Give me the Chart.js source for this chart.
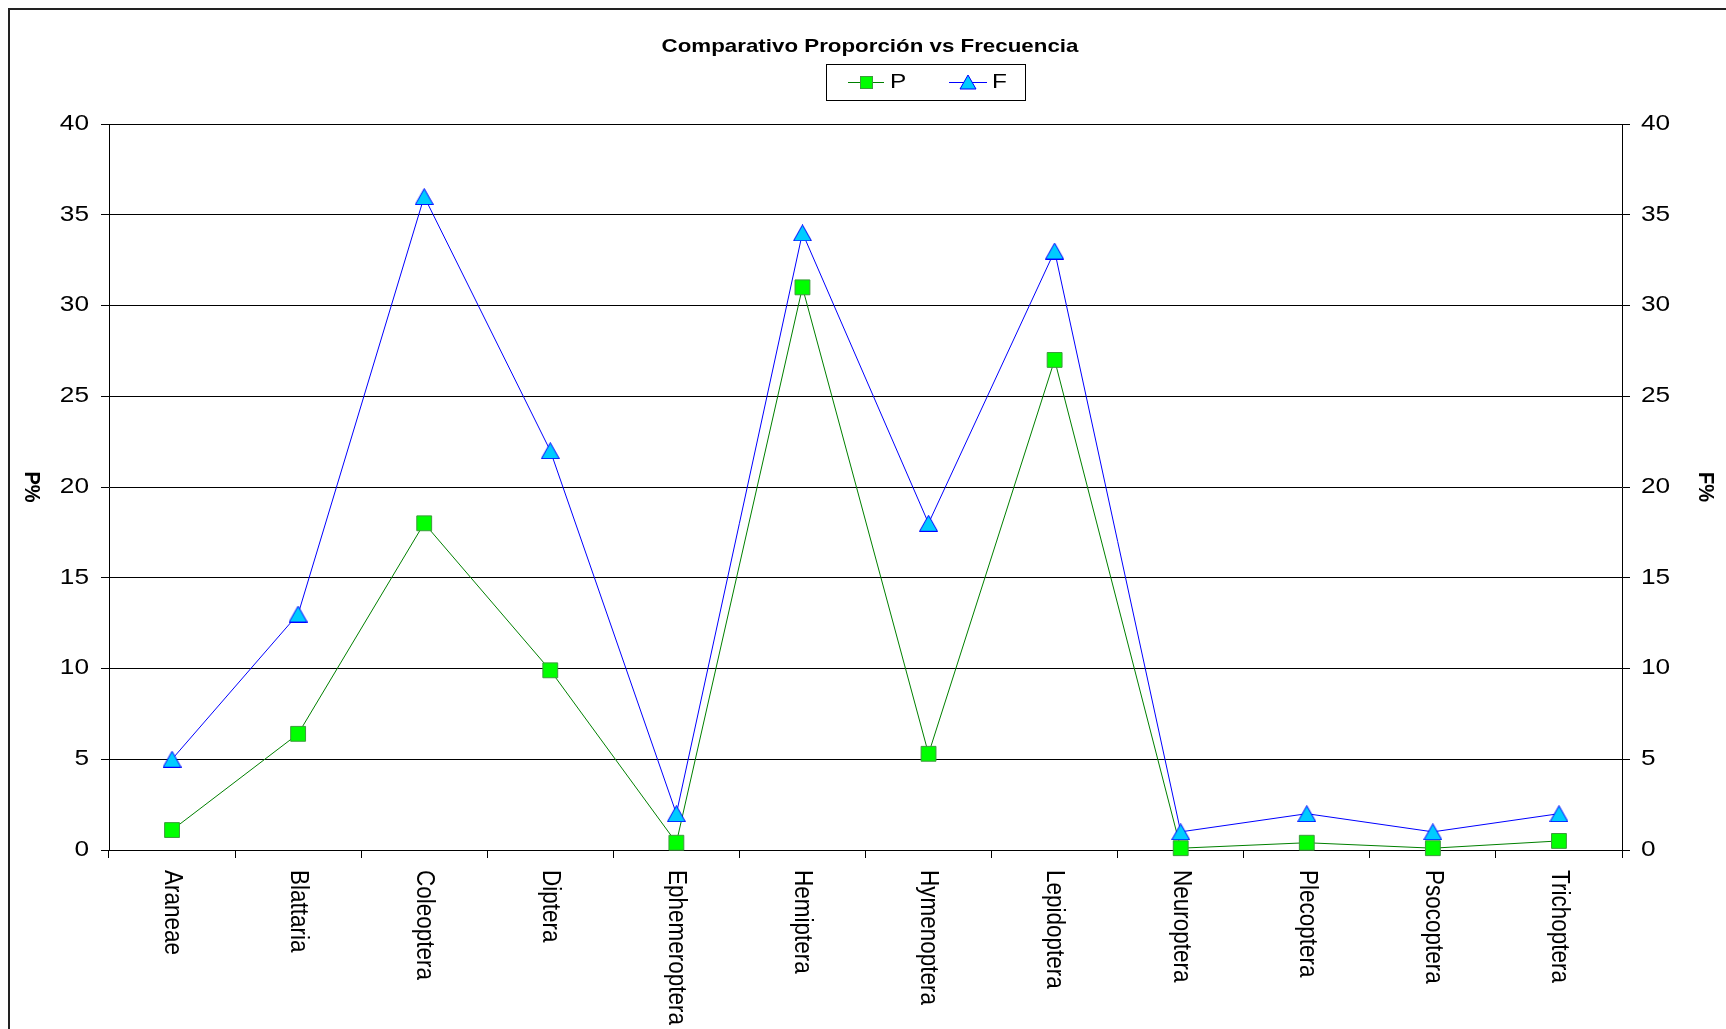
<!DOCTYPE html>
<html>
<head>
<meta charset="utf-8">
<script src="https://cdn.jsdelivr.net/npm/chart.js@4.4.1/dist/chart.umd.min.js"></script>
<style>
  html, body { margin: 0; padding: 0; background: #ffffff; }
  #c { display: block; }
</style>
</head>
<body>
<canvas id="c" width="1726" height="1029"></canvas>
<script>
// Orders of insects: proportion (P%) and frequency (F%)
const categories = ['Araneae', 'Blattaria', 'Coleoptera', 'Diptera', 'Ephemeroptera', 'Hemiptera',
  'Hymenoptera', 'Lepidoptera', 'Neuroptera', 'Plecoptera', 'Psocoptera', 'Trichoptera'];
const proporcion = [1.1, 6.4, 18, 9.9, 0.4, 31, 5.3, 27, 0.1, 0.4, 0.1, 0.5];
const frecuencia = [5, 13, 36, 22, 2, 34, 18, 33, 1, 2, 1, 2];
const yTicks = [0, 5, 10, 15, 20, 25, 30, 35, 40];
const chartTitle = 'Comparativo Proporción vs Frecuencia';
const seriesNames = ['P', 'F'];
const axisTitles = ['P%', 'F%'];

const FONT = '"Liberation Sans", Arial, sans-serif';
const STRETCH = 1.22; // text in this chart is drawn horizontally widened

const colP = { line: '#008000', fill: '#00ff00', edge: '#3d9b3d' };
const colF = { line: '#0000ff', fill: '#00ccff', edge: '#0000ff' };

// triangle marker whose bounding box is centred on the data point
function triangleMarker(w, h) {
  const cv = document.createElement('canvas');
  cv.width = w + 2; cv.height = h + 2;
  const c = cv.getContext('2d');
  c.beginPath();
  c.moveTo((w + 2) / 2, 0.5);
  c.lineTo(w + 1.5, h + 1.5);
  c.lineTo(0.5, h + 1.5);
  c.closePath();
  c.fillStyle = colF.fill; c.fill();
  c.strokeStyle = colF.edge; c.lineWidth = 1; c.stroke();
  return cv;
}
const triMark = triangleMarker(17, 15);

function wideText(ctx, text, x, y, align, font, sx) {
  ctx.save();
  ctx.font = font;
  ctx.translate(x, y);
  ctx.scale(sx || STRETCH, 1);
  ctx.textAlign = align;
  ctx.textBaseline = 'middle';
  ctx.fillText(text, 0, 0);
  ctx.restore();
}

function rotText(ctx, text, x, y, align, font, sy) {
  ctx.save();
  ctx.font = font;
  ctx.translate(x, y);
  ctx.rotate(Math.PI / 2);
  ctx.scale(1, sy || 1);
  ctx.textAlign = align;
  ctx.textBaseline = 'middle';
  ctx.fillText(text, 0, 0);
  ctx.restore();
}

const decorations = {
  id: 'decorations',
  beforeDraw(chart) {
    const ctx = chart.ctx;
    ctx.save();
    ctx.fillStyle = '#ffffff';
    ctx.fillRect(0, 0, chart.width, chart.height);
    // outer frame
    ctx.strokeStyle = '#222222';
    ctx.lineWidth = 2;
    ctx.strokeRect(9, 9, 1800, 1100);
    ctx.restore();
  },
  afterDraw(chart) {
    const ctx = chart.ctx;
    const xs = chart.scales.x, yl = chart.scales.y, yr = chart.scales.y1;
    ctx.save();
    ctx.fillStyle = '#000000';

    // value labels on both vertical axes
    yTicks.forEach(v => {
      wideText(ctx, String(v), yl.right - 20, yl.getPixelForValue(v), 'right', '21.5px ' + FONT);
      wideText(ctx, String(v), yr.left + 19, yr.getPixelForValue(v), 'left', '21.5px ' + FONT);
    });

    // category labels, read downwards
    categories.forEach((c, i) => {
      rotText(ctx, c, xs.getPixelForValue(i), xs.top + 20, 'left', '22.5px ' + FONT, 1.15);
    });

    // axis titles
    rotText(ctx, axisTitles[0], 31, (yl.top + yl.bottom) / 2, 'center', 'bold 20px ' + FONT, 1.1);
    rotText(ctx, axisTitles[1], 1705, (yr.top + yr.bottom) / 2, 'center', 'bold 20px ' + FONT, 1.1);

    // chart title
    wideText(ctx, chartTitle, 870, 47, 'center', 'bold 19px ' + FONT, 1.175);

    // legend box
    ctx.strokeStyle = '#000000';
    ctx.lineWidth = 1;
    ctx.strokeRect(826.5, 64.5, 199, 36);
    const ly = 82;
    // P entry
    ctx.strokeStyle = colP.line;
    ctx.beginPath(); ctx.moveTo(848, ly + 0.5); ctx.lineTo(884, ly + 0.5); ctx.stroke();
    ctx.fillStyle = colP.fill; ctx.strokeStyle = colP.edge;
    ctx.fillRect(860, ly - 6, 13, 13); ctx.strokeRect(860.5, ly - 5.5, 12, 12);
    ctx.fillStyle = '#000000';
    wideText(ctx, seriesNames[0], 890, ly, 'left', '20px ' + FONT);
    // F entry
    ctx.strokeStyle = colF.line;
    ctx.beginPath(); ctx.moveTo(949, ly + 0.5); ctx.lineTo(987, ly + 0.5); ctx.stroke();
    ctx.fillStyle = colF.fill; ctx.strokeStyle = colF.edge;
    ctx.beginPath(); ctx.moveTo(968, ly - 7); ctx.lineTo(976, ly + 7); ctx.lineTo(960, ly + 7); ctx.closePath();
    ctx.fill(); ctx.stroke();
    ctx.fillStyle = '#000000';
    wideText(ctx, seriesNames[1], 992, ly, 'left', '20px ' + FONT);

    ctx.restore();
  }
};

new Chart(document.getElementById('c').getContext('2d'), {
  type: 'line',
  data: {
    labels: categories,
    datasets: [
      {
        label: seriesNames[0], data: proporcion, yAxisID: 'y', order: 1,
        borderColor: colP.line, borderWidth: 1, tension: 0, fill: false,
        pointStyle: 'rect', pointRadius: 10.5, pointBorderWidth: 1,
        pointBackgroundColor: colP.fill, pointBorderColor: colP.edge, clip: false
      },
      {
        label: seriesNames[1], data: frecuencia, yAxisID: 'y1', order: 0,
        borderColor: colF.line, borderWidth: 1, tension: 0, fill: false,
        pointStyle: triMark, pointRadius: 9, clip: false
      }
    ]
  },
  options: {
    responsive: false,
    animation: false,
    devicePixelRatio: 1,
    layout: { padding: { top: 124, left: 0, right: 0, bottom: 0 } },
    plugins: { legend: { display: false }, title: { display: false }, tooltip: { enabled: false } },
    scales: {
      x: {
        type: 'category', offset: true,
        grid: { offset: true, drawOnChartArea: false, drawTicks: true, tickLength: 8, color: '#000000', lineWidth: 1 },
        border: { color: '#000000', width: 1 },
        ticks: { display: false },
        afterFit(s) { s.height = 179; }
      },
      y: {
        position: 'left', min: 0, max: 40,
        ticks: { stepSize: 5, display: false },
        grid: { color: '#000000', lineWidth: 1, tickLength: 8 },
        border: { color: '#000000', width: 1 },
        afterFit(s) { s.width = 109; }
      },
      y1: {
        position: 'right', min: 0, max: 40,
        ticks: { stepSize: 5, display: false },
        grid: { drawOnChartArea: false, color: '#000000', lineWidth: 1, tickLength: 8 },
        border: { color: '#000000', width: 1 },
        afterFit(s) { s.width = 104; }
      }
    }
  },
  plugins: [decorations]
});
</script>
</body>
</html>
